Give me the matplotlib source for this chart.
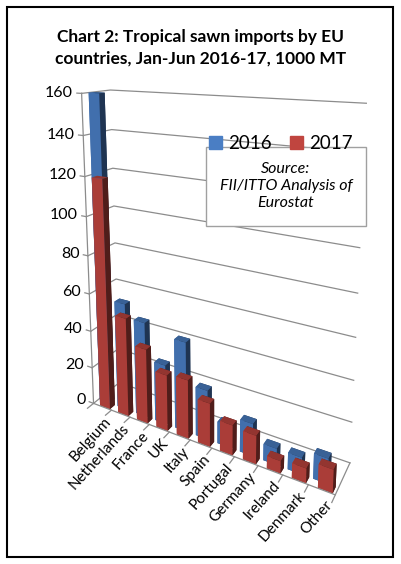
import numpy as np
import matplotlib.pyplot as plt
from matplotlib.patches import Patch, Rectangle
from matplotlib.transforms import ScaledTranslation
from mpl_toolkits.mplot3d import proj3d

countries = ["Belgium", "Netherlands", "France", "UK", "Italy", "Spain",
             "Portugal", "Germany", "Ireland", "Denmark", "Other"]
imp_2016 = [160, 57, 50, 31, 46, 25, 11, 16, 8, 8, 12]
imp_2017 = [120, 52, 39, 29, 30, 22, 15, 14, 6, 7, 11]
z_ticks = [0, 20, 40, 60, 80, 100, 120, 140, 160]

blue = "#4a7ec4"
red = "#c0453f"
grid_col = "#8c8c8c"

plt.rcParams['font.family'] = ['Lato', 'DejaVu Sans']

fig = plt.figure(figsize=(4.01, 5.64), dpi=100)
ax = fig.add_axes([0.118, 0.388, 0.80, 0.70], projection='3d',
                  computed_zorder=False)
ax.set_axis_off()

n = len(countries)
xs = np.arange(n)
x0, x1 = -0.5, n - 0.5
y0, y1 = 0.0, 1.6
ztop = 280  # box reaches above the chart so the eye sits higher

ax.set_xlim(x0, x1)
ax.set_ylim(y0, y1)
ax.set_zlim(0, ztop)
ax.view_init(elev=10, azim=-61)
ax.set_proj_type('persp', focal_length=0.34)
ax.set_box_aspect((0.96, 0.16, 2.1), zoom=2.13)

line_kw = dict(color=grid_col, lw=0.9, clip_on=False)
# gridlines: side wall + back wall
for z in z_ticks:
    ax.plot([x0, x0, x1], [y0, y1, y1], [z, z, z], zorder=1, **line_kw)
    ax.plot([x0 - 0.25, x0], [y0, y0], [z, z], zorder=1, **line_kw)
# value axis line and floor outline
ax.plot([x0, x0], [y0, y0], [0, 160], zorder=1, **line_kw)
ax.plot([x0, x1, x1], [y0, y0, y1], [0, 0, 0], zorder=3, **line_kw)
for b in np.arange(n + 1) - 0.5:
    ax.plot([b, b], [y0, y0 - 0.35], [0, 0], zorder=3, **line_kw)

# one bar3d call so faces get depth-sorted together
bx = np.concatenate([xs - 0.45, xs - 0.15])
by = np.concatenate([np.full(n, 0.32), np.full(n, 0.02)])
bz = np.zeros(2 * n)
bdz = np.concatenate([imp_2016, imp_2017])
cols = [blue] * n + [red] * n
bars = ax.bar3d(bx, by, bz, 0.55, 0.3, bdz, color=cols, shade=True, zorder=2)
bars.set_clip_on(False)

M = ax.get_proj()


def to2d(x, y, z):
    px, py, _ = proj3d.proj_transform(x, y, z, M)
    return px, py


for z in z_ticks:
    px, py = to2d(x0 - 0.45, y0, z)
    ax.text2D(px, py, str(z), transform=ax.transData, ha='right',
              va='center', fontsize=11.5, clip_on=False)

lab_off = ax.transData + ScaledTranslation(2 / 72, -8 / 72, fig.dpi_scale_trans)
for i, name in enumerate(countries):
    px, py = to2d(i + 0.2, y0, 0)
    ax.text2D(px, py, name, transform=lab_off, rotation=48,
              rotation_mode='anchor', ha='right', va='center', fontsize=11,
              clip_on=False)

handles = [Patch(color=blue, label='2016'), Patch(color=red, label='2017')]
fig.legend(handles=handles, loc='center', bbox_to_anchor=(0.70, 0.746),
           ncol=2, frameon=False, fontsize=13.5, handlelength=0.7,
           handleheight=0.7, handletextpad=0.3, columnspacing=1.0)

fig.patches.append(Rectangle((206 / 401, 1 - 226 / 564), 160 / 401, 79 / 564,
                             transform=fig.transFigure, facecolor='white',
                             edgecolor='#a0a0a0', lw=1, zorder=5))
fig.text(286 / 401, 1 - 186 / 564, "Source:\nFII/ITTO Analysis of\nEurostat",
         ha='center', va='center', style='italic', fontsize=11.5,
         linespacing=1.3, zorder=6)

fig.text(0.5, 1 - 47.5 / 564,
         "Chart 2: Tropical sawn imports by EU\ncountries, Jan-Jun 2016-17, 1000 MT",
         ha='center', va='center', fontsize=12.5, fontweight='bold',
         linespacing=1.45)

fig.patches.append(Rectangle((7 / 401, 1 - 557 / 564), 386 / 401, 550 / 564,
                             transform=fig.transFigure, fill=False,
                             edgecolor='black', lw=1.5, zorder=7))

fig.savefig("out.png", dpi=100)
